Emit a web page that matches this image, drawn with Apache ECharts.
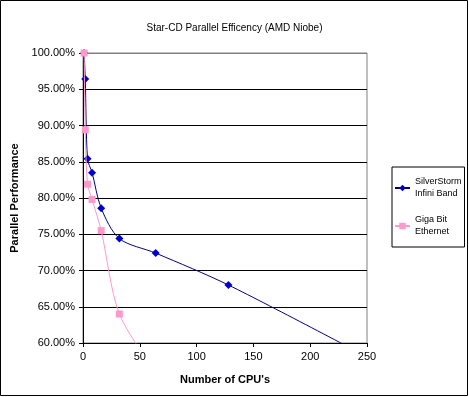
<!DOCTYPE html>
<html>
<head>
<meta charset="utf-8">
<script src="https://cdn.jsdelivr.net/npm/echarts@6/dist/echarts.min.js"></script>
<style>
  html, body { margin: 0; padding: 0; background: #fff; }
  #chart { width: 469px; height: 397px; }
</style>
</head>
<body>
<div id="chart"></div>
<script>
// CPU counts and efficiency (%)
var silverCpus = [1, 2, 4, 8, 16, 32, 64, 128, 256]
var silverEff = [100, 96.4, 85.4, 83.5, 78.6, 74.4, 72.4, 68.0, 57.6]
var gigaCpus = [1, 2, 4, 8, 16, 32, 64]
var gigaEff = [100, 89.4, 81.9, 79.8, 75.5, 64.0, 56.0]
var xTicks = [0, 50, 100, 150, 200, 250]
var yTicks = [60, 65, 70, 75, 80, 85, 90, 95, 100]

function pairs (xs, ys) {
  return xs.map(function (x, i) { return [x, ys[i]] })
}

var font = '"Liberation Sans", Arial, sans-serif'
var chart = echarts.init(document.getElementById('chart'))

chart.setOption({
  animation: false,
  title: {
    text: 'Star-CD Parallel Efficency (AMD Niobe)',
    left: 'center',
    top: 18,
    textStyle: { fontFamily: font, fontSize: 10, fontWeight: 'normal', color: '#000' }
  },
  graphic: [{
    type: 'rect',
    shape: { x: 0.5, y: 0.5, width: 467, height: 395 },
    style: { fill: null, stroke: '#000', lineWidth: 1 }
  }],
  legend: {
    orient: 'vertical',
    left: 392,
    top: 167,
    padding: [9, 3, 9, 2],
    itemGap: 14,
    itemWidth: 15,
    itemHeight: 8,
    borderColor: '#000',
    borderWidth: 1,
    textStyle: { fontFamily: font, fontSize: 9, color: '#000', lineHeight: 12 },
    data: ['SilverStorm\nInfini Band', 'Giga Bit\nEthernet']
  },
  grid: {
    left: 83,
    right: 102,
    top: 53,
    bottom: 54,
    show: true,
    borderColor: '#808080',
    borderWidth: 1
  },
  xAxis: {
    type: 'value',
    min: xTicks[0],
    max: xTicks[xTicks.length - 1],
    interval: 50,
    name: "Number of CPU's",
    nameLocation: 'middle',
    nameGap: 31,
    nameTextStyle: { fontFamily: font, fontSize: 11, fontWeight: 'bold', color: '#000' },
    axisLine: { lineStyle: { color: '#000' } },
    axisTick: { length: 4, lineStyle: { color: '#000' } },
    axisLabel: { fontFamily: font, fontSize: 11, color: '#000', margin: 8 },
    splitLine: { show: false }
  },
  yAxis: {
    type: 'value',
    min: yTicks[0],
    max: yTicks[yTicks.length - 1],
    interval: 5,
    name: 'Parallel Performance',
    nameLocation: 'middle',
    nameGap: 57,
    nameTextStyle: { fontFamily: font, fontSize: 11, fontWeight: 'bold', color: '#000' },
    axisLine: { show: true, lineStyle: { color: '#000' } },
    axisTick: { show: true, length: 4, lineStyle: { color: '#000' } },
    axisLabel: {
      fontFamily: font, fontSize: 11, color: '#000', margin: 8,
      formatter: function (v) { return v.toFixed(2) + '%' }
    },
    splitLine: {
      lineStyle: {
        color: ['#000', '#000', '#000', '#000', '#000', '#000', '#000', '#000', '#808080'],
        width: 1
      }
    }
  },
  series: [
    {
      name: 'SilverStorm\nInfini Band',
      type: 'line',
      smooth: 0.3,
      data: pairs(silverCpus, silverEff),
      symbol: 'diamond',
      symbolSize: 8,
      itemStyle: { color: '#0000cc' },
      lineStyle: { color: '#000080', width: 1 },
      z: 3
    },
    {
      name: 'Giga Bit\nEthernet',
      type: 'line',
      smooth: 0.3,
      data: pairs(gigaCpus, gigaEff),
      symbol: 'rect',
      symbolSize: 7,
      itemStyle: { color: '#ff99cc' },
      lineStyle: { color: '#ff99cc', width: 1 },
      z: 4
    }
  ]
})
</script>
</body>
</html>
